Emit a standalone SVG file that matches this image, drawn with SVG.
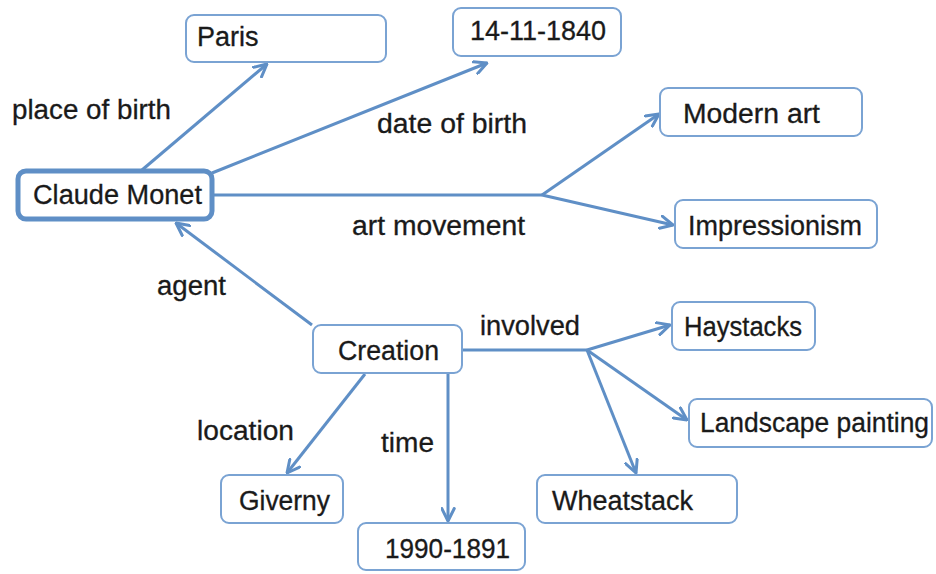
<svg xmlns="http://www.w3.org/2000/svg" width="936" height="574" viewBox="0 0 936 574">
<defs>
<marker id="arr" viewBox="0 0 12 12" refX="11" refY="6" markerWidth="5" markerHeight="5" markerUnits="strokeWidth" orient="auto">
<path d="M1,1 L11,6 L1,11" fill="none" stroke="#5f8fc6" stroke-width="2.4" stroke-linecap="round" stroke-linejoin="round"/>
</marker>
</defs>
<style>
.box{fill:#ffffff;stroke:#7aa3d3;stroke-width:2}
.main{fill:#ffffff;stroke:#5f8fc6;stroke-width:5}
.t{font-family:"Liberation Sans",Arial,sans-serif;font-size:27px;fill:#1a1a1a;stroke:#1a1a1a;stroke-width:0.3}
.c line{stroke:#5f8fc6;stroke-width:3;fill:none}
</style>
<rect width="936" height="574" fill="#ffffff"/>
<g class="c" id="connectors">
<line x1="142" y1="170" x2="267" y2="64" marker-end="url(#arr)"/>
<line x1="212" y1="173" x2="487" y2="63" marker-end="url(#arr)"/>
<line x1="212" y1="195" x2="542" y2="195"/>
<line x1="542" y1="195" x2="659" y2="114" marker-end="url(#arr)"/>
<line x1="542" y1="195" x2="673" y2="225" marker-end="url(#arr)"/>
<line x1="312" y1="325" x2="176" y2="223" marker-end="url(#arr)"/>
<line x1="462" y1="350" x2="587" y2="350"/>
<line x1="587" y1="350" x2="670" y2="325" marker-end="url(#arr)"/>
<line x1="587" y1="350" x2="687" y2="420" marker-end="url(#arr)"/>
<line x1="587" y1="350" x2="636" y2="473" marker-end="url(#arr)"/>
<line x1="365" y1="374" x2="287" y2="473" marker-end="url(#arr)"/>
<line x1="448" y1="373" x2="448" y2="521" marker-end="url(#arr)"/>
<text class="t" x="12" y="119" textLength="159" lengthAdjust="spacingAndGlyphs">place of birth</text>
<text class="t" x="377" y="133" textLength="150" lengthAdjust="spacingAndGlyphs">date of birth</text>
<text class="t" x="352" y="235" textLength="173" lengthAdjust="spacingAndGlyphs">art movement</text>
<text class="t" x="157" y="295" textLength="69" lengthAdjust="spacingAndGlyphs">agent</text>
<text class="t" x="480" y="335" textLength="100" lengthAdjust="spacingAndGlyphs">involved</text>
<text class="t" x="197" y="440" textLength="97" lengthAdjust="spacingAndGlyphs">location</text>
<text class="t" x="381" y="452" textLength="53" lengthAdjust="spacingAndGlyphs">time</text>
</g>
<g id="monet"><rect class="main" x="18" y="171" width="194" height="48" rx="8"/><text class="t" x="33" y="204" textLength="169" lengthAdjust="spacingAndGlyphs">Claude Monet</text></g>
<g id="paris"><rect class="box" x="186" y="15" width="200" height="47" rx="8"/><text class="t" x="197" y="46">Paris</text></g>
<g id="date"><rect class="box" x="453" y="8" width="168" height="48" rx="8"/><text class="t" x="470" y="40" textLength="136" lengthAdjust="spacingAndGlyphs">14-11-1840</text></g>
<g id="modern"><rect class="box" x="660" y="88" width="202" height="48" rx="8"/><text class="t" x="683" y="123" textLength="137" lengthAdjust="spacingAndGlyphs">Modern art</text></g>
<g id="impressionism"><rect class="box" x="675" y="200" width="202" height="48" rx="8"/><text class="t" x="688" y="235" textLength="174" lengthAdjust="spacingAndGlyphs">Impressionism</text></g>
<g id="creation"><rect class="box" x="313" y="325" width="149" height="48" rx="8"/><text class="t" x="338" y="360" textLength="101" lengthAdjust="spacingAndGlyphs">Creation</text></g>
<g id="giverny"><rect class="box" x="221" y="475" width="122" height="48" rx="8"/><text class="t" x="239" y="510" textLength="91" lengthAdjust="spacingAndGlyphs">Giverny</text></g>
<g id="time"><rect class="box" x="358" y="523" width="167" height="47" rx="8"/><text class="t" x="385" y="558" textLength="125" lengthAdjust="spacingAndGlyphs">1990-1891</text></g>
<g id="wheatstack"><rect class="box" x="537" y="475" width="200" height="48" rx="8"/><text class="t" x="552" y="510" textLength="141" lengthAdjust="spacingAndGlyphs">Wheatstack</text></g>
<g id="haystacks"><rect class="box" x="672" y="302" width="143" height="48" rx="8"/><text class="t" x="684" y="336" textLength="118" lengthAdjust="spacingAndGlyphs">Haystacks</text></g>
<g id="landscape"><rect class="box" x="689" y="399" width="243" height="48" rx="8"/><text class="t" x="700" y="432" textLength="229" lengthAdjust="spacingAndGlyphs">Landscape painting</text></g>
</svg>
